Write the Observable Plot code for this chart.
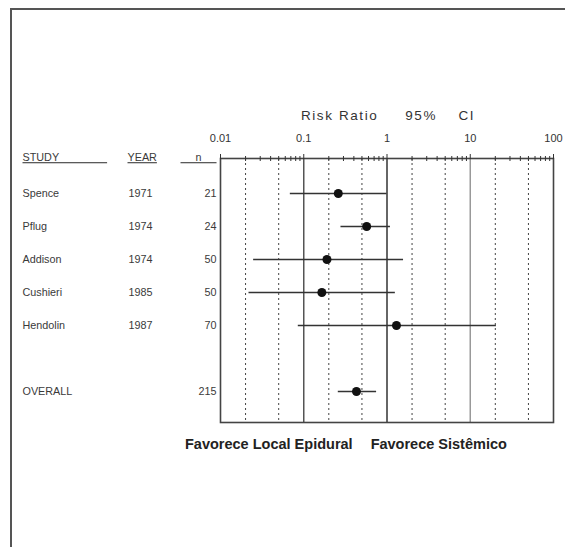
<!DOCTYPE html>
<html><head><meta charset="utf-8">
<script src="https://cdn.jsdelivr.net/npm/d3@7"></script>
<script src="https://cdn.jsdelivr.net/npm/@observablehq/plot@0.6"></script>
<style>
html,body{margin:0;background:#fff;font-family:"Liberation Sans",Arial,sans-serif;overflow:hidden}
#page{position:relative;width:565px;height:547px;overflow:hidden}
#topline{position:absolute;left:10px;top:8px;width:555px;height:1.5px;background:#555}
#leftline{position:absolute;left:10px;top:8px;width:1.5px;height:539px;background:#555}
#chart{position:absolute;left:0;top:0}
#caption{position:absolute;left:185px;top:436px;font-weight:bold;font-size:14.5px;color:#222;white-space:nowrap}
.hdr{text-decoration:underline;text-underline-offset:4px}
.ttl{letter-spacing:1.6px}
</style></head>
<body><div id="page"><div id="topline"></div><div id="leftline"></div><div id="chart"></div>
<div id="caption"><span>Favorece Local Epidural</span><span style="margin-left:18px">Favorece Sistêmico</span></div></div>
<script>
const studies = ["Spence","Pflug","Addison","Cushieri","Hendolin","OVERALL"];
const years = ["1971","1974","1974","1985","1987",""];
const nValues = ["21","24","50","50","70","215"];
const rows = [0,1,2,3,4,6];
const riskRatio = [0.26,0.57,0.19,0.165,1.3,0.43];
const ciLow = [0.069,0.28,0.025,0.022,0.086,0.26];
const ciHigh = [1.0,1.1,1.58,1.26,20.6,0.75];
const headers = ["STUDY","YEAR","n"];
const axisTitle = "Risk Ratio\u00a0\u00a0\u00a0\u00a0\u00a095%\u00a0\u00a0\u00a0\u00a0CI";
const majorTicks = [0.01,0.1,1,10,100];
const minorTicks = [0.02,0.03,0.04,0.05,0.06,0.07,0.08,0.09,0.2,0.3,0.4,0.5,0.6,0.7,0.8,0.9,2,3,4,5,6,7,8,9,20,30,40,50,60,70,80,90];
const solidLines = [0.1,1,10];
const solidColors = ["#555","#333","#999"];
const dottedLines = [0.02,0.05,0.2,0.5,2,5,20,50];

const data = studies.map((s,i)=>({study:s, year:years[i], n:nValues[i], row:rows[i], rr:riskRatio[i], lo:ciLow[i], hi:ciHigh[i]}));
const solid = solidLines.map((v,i)=>({v, c:solidColors[i]}));
const pad = k => "\u00a0".repeat(k);

const txt = {fontSize: 10.8, fill: "#3a3a3a", fontFamily: "Liberation Sans, Arial, sans-serif"};
const hdr = {frameAnchor: "top-left", dy: -5, textAnchor: "start", className: "hdr", ...txt};

const chart = Plot.plot({
  width: 565, height: 430,
  marginLeft: 220, marginRight: 12, marginTop: 158, marginBottom: 8,
  x: {type: "log", domain: [0.01, 100], axis: null},
  y: {domain: [-1.06, 6.94], reverse: true, axis: null},
  style: {fontFamily: "Liberation Sans, Arial, sans-serif", background: "transparent"},
  marks: [
    Plot.ruleX(dottedLines, {x: d=>d, stroke: "#444", strokeDasharray: "2,3", strokeWidth: 1}),
    Plot.ruleX(solid, {x: "v", stroke: "c", strokeWidth: 1.5}),
    Plot.frame({stroke: "#444", strokeWidth: 1.6}),
    Plot.axisX({anchor: "top", ticks: minorTicks, tickSize: 3, text: null, stroke: "#333", label: null}),
    Plot.axisX({anchor: "top", ticks: minorTicks, tickSize: -2, text: null, stroke: "#333", label: null}),
    Plot.axisX({anchor: "top", ticks: majorTicks, tickSize: 5, tickPadding: 12, tickFormat: d=>String(d), fontSize: 11, fill: "#333", stroke: "#333", label: null}),
    Plot.text([axisTitle], {text: d=>d, frameAnchor: "top", dx: 1, dy: -48, fontSize: 13.5, fill: "#333", className: "ttl"}),
    Plot.ruleY(data, {y: "row", x1: "lo", x2: "hi", stroke: "#333", strokeWidth: 1.5}),
    Plot.dot(data, {x: "rr", y: "row", r: 4.5, fill: "#111", stroke: "none"}),
    Plot.text(data, {y: "row", text: "study", frameAnchor: "left", dx: -198, textAnchor: "start", ...txt}),
    Plot.text(data, {y: "row", text: "year", frameAnchor: "left", dx: -92, textAnchor: "start", ...txt}),
    Plot.text(data, {y: "row", text: "n", frameAnchor: "left", dx: -4, textAnchor: "end", ...txt}),
    Plot.text([headers[0]], {text: d=>d + pad(16), dx: -198, ...hdr}),
    Plot.text([headers[1]], {text: d=>d, dx: -93, ...hdr}),
    Plot.text([headers[2]], {text: d=>pad(5) + d + pad(5), dx: -40, ...hdr})
  ]
});
document.getElementById("chart").append(chart);
</script>
</body></html>
